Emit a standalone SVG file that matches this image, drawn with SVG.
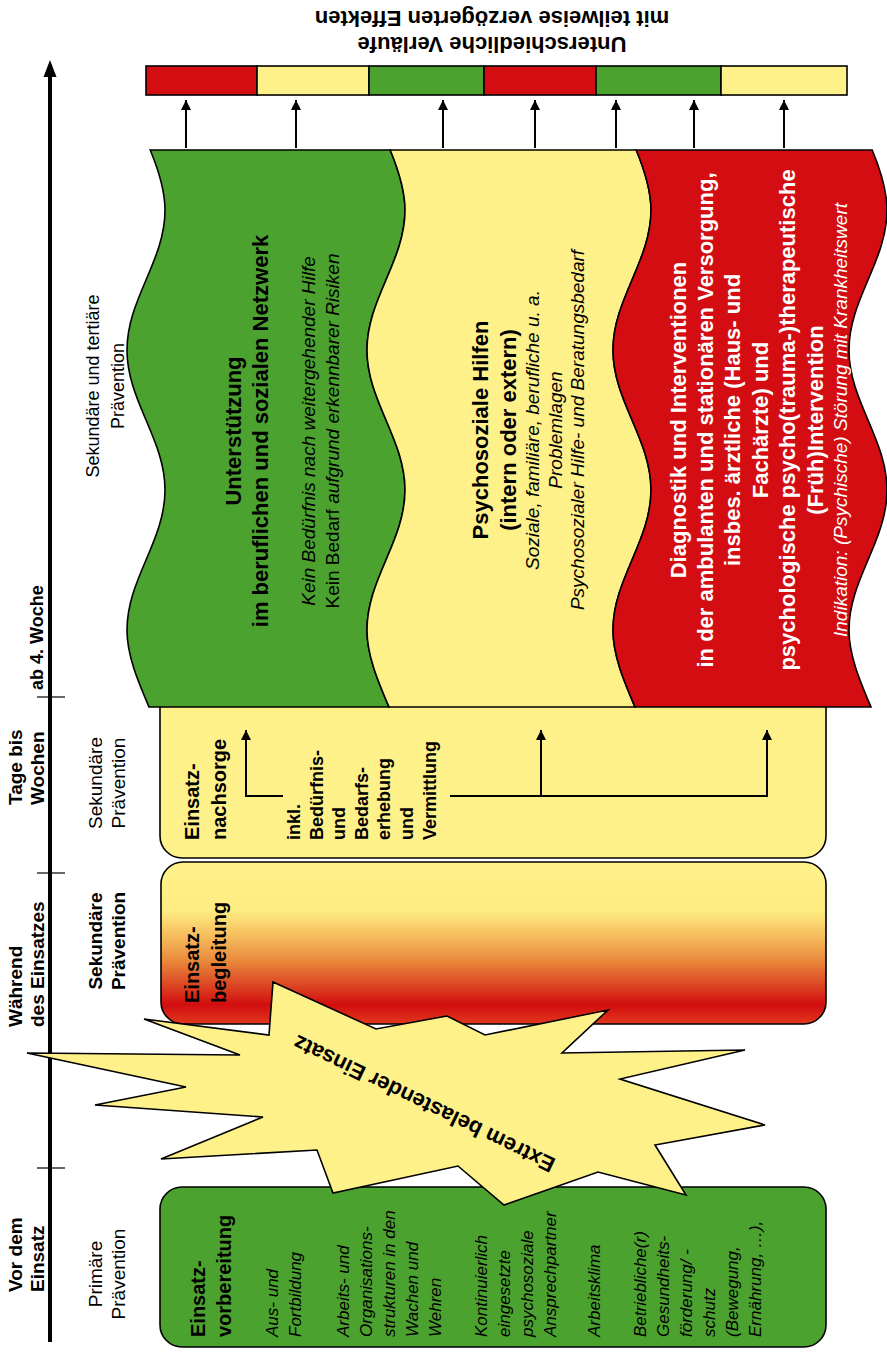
<svg xmlns="http://www.w3.org/2000/svg" width="887" height="1356" viewBox="0 0 887 1356">
<defs>
<style>
text{font-family:"Liberation Sans",Arial,sans-serif;fill:#000}
.b{font-weight:bold}
.i{font-style:italic}
.w{fill:#fff}
.stk{stroke:#000;stroke-width:1.6}
.con{fill:none;stroke:#000;stroke-width:2}
</style>
<marker id="ah" viewBox="0 0 10 10" refX="10" refY="5" markerWidth="10" markerHeight="11" markerUnits="userSpaceOnUse" orient="auto">
<path d="M0,0 L10,5 L0,10 z" fill="#000"/>
</marker>
<linearGradient id="grad" x1="0" y1="0" x2="0" y2="1">
<stop offset="0" stop-color="#fff188"/>
<stop offset="0.3" stop-color="#fdec82"/>
<stop offset="0.45" stop-color="#f6bf5e"/>
<stop offset="0.62" stop-color="#e8853a"/>
<stop offset="0.8" stop-color="#d9341c"/>
<stop offset="0.88" stop-color="#d20d10"/>
<stop offset="1" stop-color="#e2381c"/>
</linearGradient>
</defs>
<rect width="887" height="1356" fill="#fff"/>

<g id="title">
<text class="b" font-size="22" text-anchor="middle" transform="translate(492,37.3) rotate(180)">Unterschiedliche Verläufe<tspan x="0" dy="26">mit teilweise verzögerten Effekten</tspan></text>
</g>

<g id="outcome-bar" class="stk">
<rect x="146" y="66" width="111" height="29" fill="#d30d12"/>
<rect x="257" y="66" width="112" height="29" fill="#fff18a"/>
<rect x="369" y="66" width="115" height="29" fill="#4ca22f"/>
<rect x="484" y="66" width="112" height="29" fill="#d30d12"/>
<rect x="596" y="66" width="125" height="29" fill="#4ca22f"/>
<rect x="721" y="66" width="126" height="29" fill="#fff18a"/>
</g>

<g id="axis">
<line x1="50" y1="1342" x2="50" y2="72" stroke="#000" stroke-width="4"/>
<polygon points="50,60 43.5,77 56.5,77" fill="#000"/>
<line x1="37" y1="1168" x2="65" y2="1168" stroke="#000" stroke-width="1.2"/>
<line x1="37" y1="873" x2="65" y2="873" stroke="#000" stroke-width="1.2"/>
<line x1="37" y1="697" x2="65" y2="697" stroke="#000" stroke-width="1.2"/>
</g>

<g id="axis-labels" font-size="19">
<text class="b" transform="translate(21.6,1292) rotate(-90)">Vor dem<tspan x="0" dy="22">Einsatz</tspan></text>
<text text-anchor="middle" transform="translate(101.6,1274) rotate(-90)">Primäre<tspan x="0" dy="23">Prävention</tspan></text>
<text class="b" transform="translate(21.6,1027) rotate(-90)">Während<tspan x="0" dy="22">des Einsatzes</tspan></text>
<text class="b" text-anchor="middle" transform="translate(101.6,941) rotate(-90)">Sekundäre<tspan x="0" dy="23">Prävention</tspan></text>
<text class="b" transform="translate(21.6,805) rotate(-90)">Tage bis<tspan x="0" dy="22">Wochen</tspan></text>
<text text-anchor="middle" transform="translate(101.6,783) rotate(-90)">Sekundäre<tspan x="0" dy="23">Prävention</tspan></text>
<text class="b" font-size="18" transform="translate(43.3,690) rotate(-90)">ab 4. Woche</text>
<text font-size="18" text-anchor="middle" transform="translate(99.3,386) rotate(-90)">Sekundäre und tertiäre<tspan x="0" dy="25">Prävention</tspan></text>
</g>

<g id="einsatzvorbereitung">
<rect class="stk" x="160" y="1187" width="666" height="160" rx="22" fill="#4ca22f"/>
<text class="b" font-size="20" transform="translate(205,1337) rotate(-90)">Einsatz-<tspan x="0" dy="26">vorbereitung</tspan></text>
<g class="i" font-size="17">
<text transform="translate(278,1337) rotate(-90)">Aus- und<tspan x="0" dy="23">Fortbildung</tspan></text>
<text transform="translate(349,1337) rotate(-90)">Arbeits- und<tspan x="0" dy="23">Organisations-</tspan><tspan x="0" dy="23">strukturen in den</tspan><tspan x="0" dy="23">Wachen und</tspan><tspan x="0" dy="23">Wehren</tspan></text>
<text transform="translate(487,1337) rotate(-90)">Kontinuierlich<tspan x="0" dy="23">eingesetzte</tspan><tspan x="0" dy="23">psychosoziale</tspan><tspan x="0" dy="23">Ansprechpartner</tspan></text>
<text transform="translate(600,1337) rotate(-90)">Arbeitsklima</text>
<text transform="translate(646,1337) rotate(-90)">Betriebliche(r)<tspan x="0" dy="23">Gesundheits-</tspan><tspan x="0" dy="23">förderung/ -</tspan><tspan x="0" dy="23">schutz</tspan><tspan x="0" dy="23">(Bewegung,</tspan><tspan x="0" dy="23">Ernährung, …),</tspan></text>
</g>
</g>

<g id="einsatzbegleitung">
<rect class="stk" x="161" y="862" width="665" height="162" rx="22" fill="url(#grad)"/>
<text class="b" font-size="20" transform="translate(199,1003) rotate(-90)">Einsatz-<tspan x="0" dy="27">begleitung</tspan></text>
</g>

<g id="einsatznachsorge">
<rect class="stk" x="160" y="680" width="666" height="178" rx="22" fill="#fff18a"/>
<text class="b" font-size="20" transform="translate(199,840) rotate(-90)">Einsatz-<tspan x="0" dy="27">nachsorge</tspan></text>
<text class="b" font-size="18" transform="translate(300,840) rotate(-90)">inkl.<tspan x="0" dy="22.6">Bedürfnis-</tspan><tspan x="0" dy="22.6">und</tspan><tspan x="0" dy="22.6">Bedarfs-</tspan><tspan x="0" dy="22.6">erhebung</tspan><tspan x="0" dy="22.6">und</tspan><tspan x="0" dy="22.6">Vermittlung</tspan></text>
</g>

<g id="starburst">
<polygon class="stk" fill="#fff18a" points="27,1053 240,1055 144,1019 269,1035 273,982 376,1029 447,1016 485,1035 608,1010 562,1053 745,1050 620,1079 765,1125 655,1145 686,1195 598,1172 504,1205 458,1166 333,1193 317,1150 161,1159 263,1117 95,1105 186,1087"/>
<text class="b" font-size="22" text-anchor="middle" transform="translate(427.3,1097) rotate(205.8)">Extrem belastender Einsatz</text>
</g>

<g id="unterstuetzung">
<path class="stk" fill="#4ca22f" d="M150.2,150 C158.5,170 165,190 165,210 C165,261 127,299 127,350 C127,401 165,439 165,490 C165,541 127,579 127,630 C127,655.7 138.1,681.3 149,707 L389,707 C378.1,681.3 367,655.7 367,630 C367,579 405,541 405,490 C405,439 367,401 367,350 C367,299 405,261 405,210 C405,190 398.5,170 390.2,150 Z"/>
<text class="b" font-size="22" text-anchor="middle" transform="translate(240.7,431) rotate(-90)">Unterstützung<tspan x="0" dy="27">im beruflichen und sozialen Netzwerk</tspan></text>
<text class="i" font-size="19" text-anchor="middle" transform="translate(314.7,431) rotate(-90)">Kein Bedürfnis nach weitergehender Hilfe<tspan x="0" dy="24" font-style="normal">Kein Bedarf</tspan><tspan> aufgrund erkennbarer Risiken</tspan></text>
</g>

<g id="psychosoziale-hilfen">
<path class="stk" fill="#fff18a" d="M390.2,150 C398.5,170 405,190 405,210 C405,261 367,299 367,350 C367,401 405,439 405,490 C405,541 367,579 367,630 C367,655.7 378.1,681.3 389,707 L635,707 C624.1,681.3 613,655.7 613,630 C613,579 651,541 651,490 C651,439 613,401 613,350 C613,299 651,261 651,210 C651,190 644.5,170 636.2,150 Z"/>
<text class="b" font-size="22" text-anchor="middle" transform="translate(487.7,430) rotate(-90)">Psychosoziale Hilfen<tspan x="0" dy="28">(intern oder extern)</tspan></text>
<text class="i" font-size="19" text-anchor="middle" transform="translate(538.7,430) rotate(-90)">Soziale, familiäre, berufliche u. a.<tspan x="0" dy="23">Problemlagen</tspan><tspan x="0" dy="22">Psychosozialer Hilfe- und Beratungsbedarf</tspan></text>
</g>

<g id="diagnostik">
<path class="stk" fill="#d30d12" d="M636.2,150 C644.5,170 651,190 651,210 C651,261 613,299 613,350 C613,401 651,439 651,490 C651,541 613,579 613,630 C613,655.7 624.1,681.3 635,707 L871,707 C860.1,681.3 849,655.7 849,630 C849,579 887,541 887,490 C887,439 849,401 849,350 C849,299 887,261 887,210 C887,190 880.5,170 872.2,150 Z"/>
<text class="b w" font-size="22" text-anchor="middle" transform="translate(685.7,420) rotate(-90)">Diagnostik und Interventionen<tspan x="0" dy="27.4">in der ambulanten und stationären Versorgung,</tspan><tspan x="0" dy="27.4">insbes. ärztliche (Haus- und</tspan><tspan x="0" dy="27.4">Fachärzte) und</tspan><tspan x="0" dy="27.4">psychologische psycho(trauma-)therapeutische</tspan><tspan x="0" dy="27.4">(Früh)Intervention</tspan></text>
<text class="i w" font-size="19" text-anchor="middle" transform="translate(846.7,420) rotate(-90)">Indikation: (Psychische) Störung mit Krankheitswert</text>
</g>

<g id="connectors" class="con">
<line x1="186" y1="148" x2="186" y2="100" marker-end="url(#ah)"/>
<line x1="296" y1="148" x2="296" y2="100" marker-end="url(#ah)"/>
<line x1="443" y1="148" x2="443" y2="100" marker-end="url(#ah)"/>
<line x1="535" y1="148" x2="535" y2="100" marker-end="url(#ah)"/>
<line x1="616" y1="148" x2="616" y2="100" marker-end="url(#ah)"/>
<line x1="694" y1="148" x2="694" y2="100" marker-end="url(#ah)"/>
<line x1="784" y1="148" x2="784" y2="100" marker-end="url(#ah)"/>
<path d="M283,796 H246 V730" marker-end="url(#ah)"/>
<path d="M450,796 H767 V730" marker-end="url(#ah)"/>
<path d="M541,796 V730" marker-end="url(#ah)"/>
</g>
</svg>
